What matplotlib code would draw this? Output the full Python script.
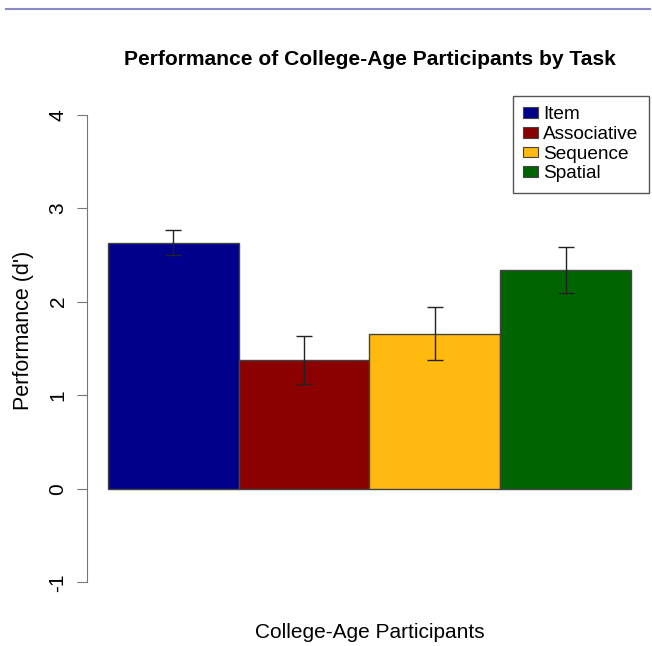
import matplotlib
matplotlib.use("Agg")
import matplotlib.pyplot as plt
from matplotlib.patches import Patch
from matplotlib.lines import Line2D

plt.rcParams['font.family'] = ['Liberation Sans', 'DejaVu Sans']

tasks = ["Item", "Associative", "Sequence", "Spatial"]
means = [2.63, 1.38, 1.66, 2.34]
errs = [0.135, 0.255, 0.28, 0.25]
colors = ["#00008B", "#8B0000", "#FFB90F", "#006400"]

fig = plt.figure(figsize=(6.52, 6.46), dpi=100)
ax = fig.add_axes([87 / 652, 45 / 646, 565 / 652, 505 / 646])

xpos = [i + 0.5 for i in range(len(tasks))]
ax.bar(xpos, means, width=1.0, color=colors, edgecolor="#444444", linewidth=1.0)
ax.errorbar(xpos, means, yerr=errs, fmt="none", ecolor="#222222",
            elinewidth=1.0, capsize=5.8, capthick=1.0)

ax.set_xlim(-0.16, 4.16)
ax.set_ylim(-1.2, 4.2)
ax.set_yticks([-1, 0, 1, 2, 3, 4])
ax.set_yticklabels(["-1", "0", "1", "2", "3", "4"], rotation=90, va="center", fontsize=15)
ax.set_xticks([])
for s in ["top", "right", "bottom"]:
    ax.spines[s].set_visible(False)
ax.spines["left"].set_bounds(-1, 4)
ax.spines["left"].set_color("#777777")
ax.tick_params(axis="y", length=7, color="#777777", pad=7)

ax.set_ylabel("Performance (d')", fontsize=15.5)
ax.yaxis.set_label_coords(-0.094, 0.535)
ax.set_xlabel("College-Age Participants", fontsize=15, labelpad=16)
ax.set_title("Performance of College-Age Participants by Task",
             fontsize=15.1, fontweight="bold", pad=22)

handles = [Patch(facecolor=c, edgecolor="#444444", linewidth=0.8) for c in colors]
leg = ax.legend(handles, tasks, loc="upper right", bbox_to_anchor=(1 - 3 / 565, 1),
                borderaxespad=0, fontsize=13.7,
                fancybox=False, edgecolor="#555555", framealpha=1,
                handlelength=0.75, handleheight=0.5, handletextpad=0.3,
                labelspacing=0.14, borderpad=0.55)
leg.get_frame().set_linewidth(1.0)

fig.add_artist(Line2D([6 / 652, 650 / 652], [1 - 9 / 646, 1 - 9 / 646],
                      transform=fig.transFigure, color="#8888c8", linewidth=1.5))

fig.savefig("out.png", dpi=100)
